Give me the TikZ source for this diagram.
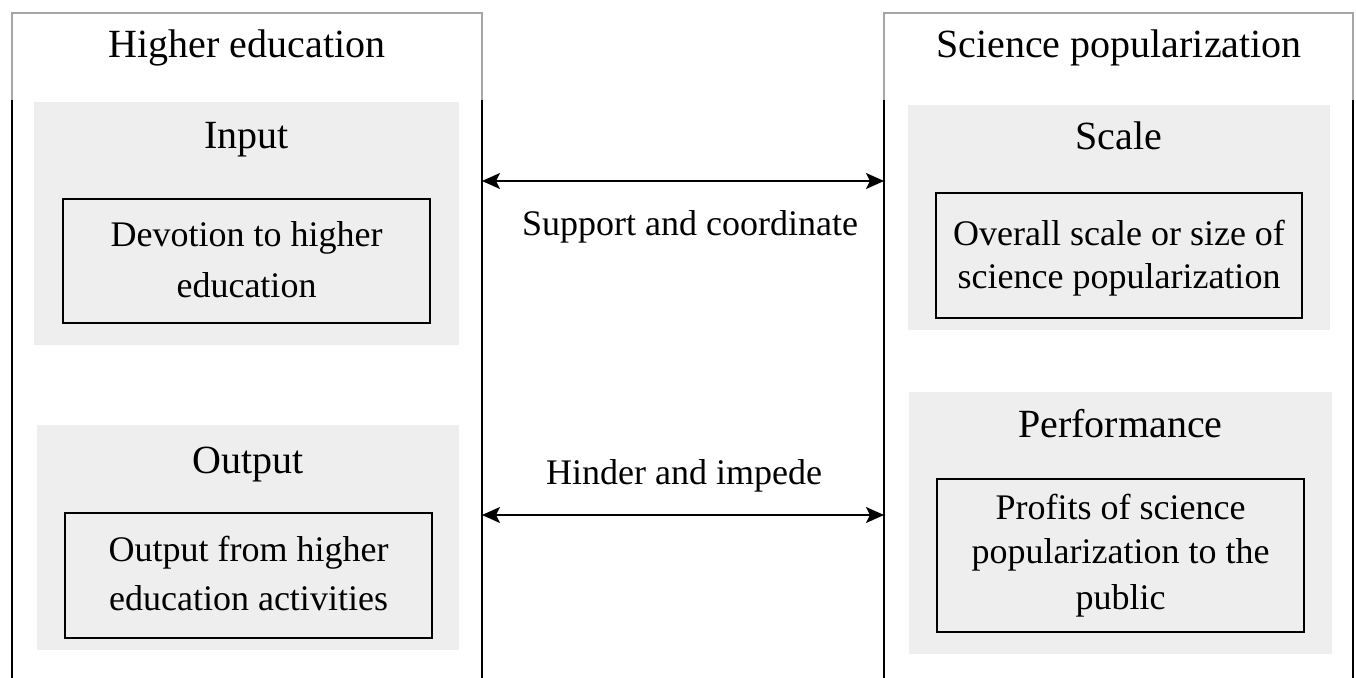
\documentclass[tikz,border=0pt]{standalone}
\usepackage{fontspec}
\setmainfont{Liberation Serif}
\usetikzlibrary{arrows.meta}
\definecolor{panelgray}{HTML}{EEEEEE}
\begin{document}
\begin{tikzpicture}[x=1pt,y=-1pt,
  outerbox/.style={draw=gray!70, line width=1.2pt, inner sep=0pt, outer sep=0pt, anchor=north west},
  panel/.style={fill=panelgray, draw=none, inner sep=0pt, outer sep=0pt, anchor=north west},
  innerbox/.style={draw=black, line width=1.6pt, fill=panelgray, inner sep=0pt, outer sep=0pt, anchor=north west},
  headtxt/.style={font=\fontsize{40}{48}\selectfont, inner sep=0pt, anchor=base},
  bodytxt/.style={font=\fontsize{36}{43}\selectfont, inner sep=0pt, anchor=base},
  sideline/.style={draw=black, line width=1.6pt},
  biarrow/.style={draw=black, line width=1.8pt, {Stealth[length=18pt,width=16pt,inset=4pt]}-{Stealth[length=18pt,width=16pt,inset=4pt]}}
]
\useasboundingbox (0,0) rectangle (1356,677);
\fill[white] (0,0) rectangle (1356,677);

% outer boxes
\node[outerbox, minimum width=470pt, minimum height=720pt] (L) at (12,13) {};
\node[outerbox, minimum width=469pt, minimum height=720pt] (R) at (884,13) {};
\draw[sideline] (12,100) -- (12,690);
\draw[sideline] (482,100) -- (482,690);
\draw[sideline] (884,100) -- (884,690);
\draw[sideline] (1353,100) -- (1353,690);

\node[headtxt] (Lh) at (247,58) {Higher education};
\node[headtxt] (Rh) at (1119,58) {Science popularization};

% panels
\node[panel, minimum width=425pt, minimum height=243pt] (pin) at (34,102) {};
\node[panel, minimum width=422pt, minimum height=225pt] (pout) at (37,425) {};
\node[panel, minimum width=422pt, minimum height=225pt] (pscale) at (908,105) {};
\node[panel, minimum width=423pt, minimum height=262pt] (pperf) at (909,392) {};

\node[headtxt] (tin) at (246.5,148) {Input};
\node[headtxt] (tout) at (248,473) {Output};
\node[headtxt] (tscale) at (1119,149) {Scale};
\node[headtxt] (tperf) at (1120.5,437) {Performance};

% inner boxes
\node[innerbox, minimum width=367pt, minimum height=124pt] (bin) at (63,199) {};
\node[innerbox, minimum width=367pt, minimum height=125pt] (bout) at (65,513) {};
\node[innerbox, minimum width=366pt, minimum height=125pt] (bscale) at (936,193) {};
\node[innerbox, minimum width=367pt, minimum height=153pt] (bperf) at (937,479) {};

\node[bodytxt] (bin1) at (246.5,246) {Devotion to higher};
\node[bodytxt] (bin2) at (246.5,297) {education};
\node[bodytxt] (bout1) at (248.5,561) {Output from higher};
\node[bodytxt] (bout2) at (248.5,610) {education activities};
\node[bodytxt] (bscale1) at (1119,245) {Overall scale or size of};
\node[bodytxt] (bscale2) at (1119,288) {science popularization};
\node[bodytxt] (bperf1) at (1120.5,519) {Profits of science};
\node[bodytxt] (bperf2) at (1120.5,563) {popularization to the};
\node[bodytxt] (bperf3) at (1120.5,609) {public};

% connectors
\coordinate (a1) at (683,181);
\coordinate (a2) at (683,515);
\draw[biarrow] (a1 -| L.east) -- (a1 -| R.west);
\draw[biarrow] (a2 -| L.east) -- (a2 -| R.west);
\node[bodytxt] (lab1) at (690,235) {Support and coordinate};
\node[bodytxt] (lab2) at (684,484) {Hinder and impede};
\end{tikzpicture}
\end{document}
